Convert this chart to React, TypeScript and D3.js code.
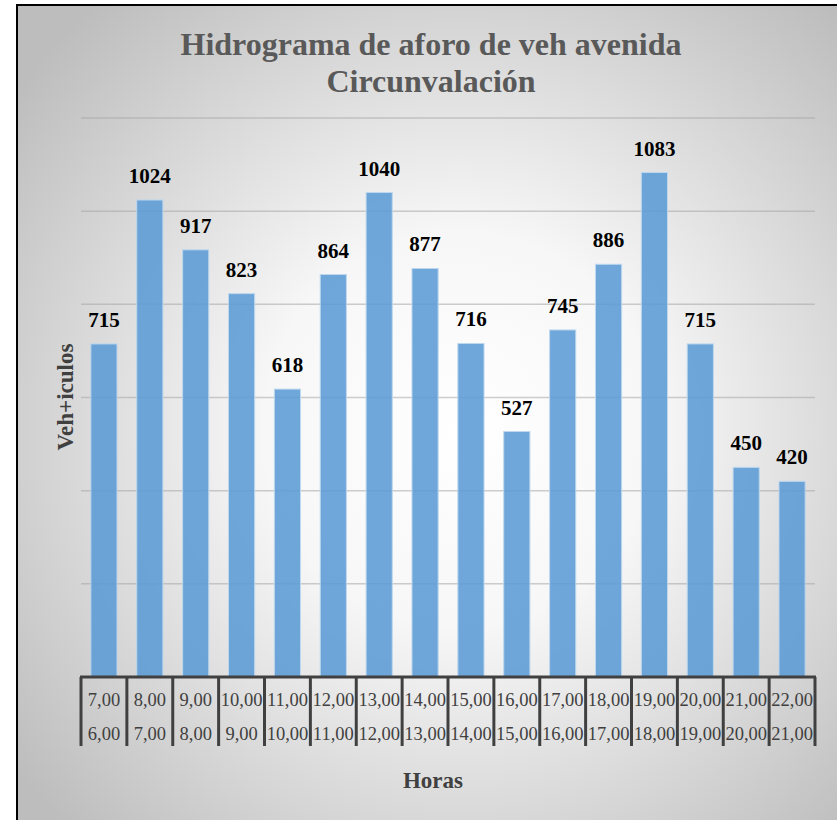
import React from "react";
import * as d3 from "d3";

// horas (hasta / desde) y conteo de vehiculos
const horasHasta = ["7,00", "8,00", "9,00", "10,00", "11,00", "12,00", "13,00", "14,00", "15,00", "16,00", "17,00", "18,00", "19,00", "20,00", "21,00", "22,00"];
const horasDesde = ["6,00", "7,00", "8,00", "9,00", "10,00", "11,00", "12,00", "13,00", "14,00", "15,00", "16,00", "17,00", "18,00", "19,00", "20,00", "21,00"];
const vehiculos = [715, 1024, 917, 823, 618, 864, 1040, 877, 716, 527, 745, 886, 1083, 715, 450, 420];
const yTicks = [0, 200, 400, 600, 800, 1000, 1200];

const W = 837;
const H = 820;
const plot = { left: 81, right: 815, top: 118, bottom: 677 };
const serif = "Liberation Serif";

export default function App() {
  const idx = vehiculos.map((_, i) => String(i));

  const x = d3
    .scaleBand()
    .domain(idx)
    .range([plot.left, plot.right])
    .paddingInner(0.43)
    .paddingOuter(0.215);

  const y = d3.scaleLinear().domain([0, 1200]).range([plot.bottom, plot.top]);

  const step = x.step();
  const tableBottom = 746;
  const cx = (i: number) => (x(String(i)) ?? 0) + x.bandwidth() / 2;

  return (
    <svg
      width={W}
      height={H}
      style={{ position: "absolute", left: 0, top: 0, display: "block" }}
    >
      <defs>
        <radialGradient id="bg" gradientUnits="userSpaceOnUse" cx={460} cy={430} r={560}>
          <stop offset="0%" stopColor="#ffffff" />
          <stop offset="35%" stopColor="#f7f7f7" />
          <stop offset="100%" stopColor="#bdbdbd" />
        </radialGradient>
      </defs>
      <rect x={17} y={5} width={W} height={H} fill="url(#bg)" stroke="#000" strokeWidth={2} />

      {/* title */}
      <text x={431} y={55} textAnchor="middle" fontFamily={serif} fontWeight="bold" fontSize={32} fill="#595959">
        Hidrograma de aforo de veh avenida
      </text>
      <text x={431} y={92} textAnchor="middle" fontFamily={serif} fontWeight="bold" fontSize={32} fill="#595959">
        Circunvalación
      </text>

      {/* gridlines */}
      {yTicks.slice(1).map((t) => (
        <line
          key={t}
          x1={plot.left}
          x2={plot.right}
          y1={y(t)}
          y2={y(t)}
          stroke="#a6a6a6"
          strokeOpacity={0.55}
          strokeWidth={1.5}
        />
      ))}

      {/* bars */}
      {vehiculos.map((v, i) => (
        <rect
          key={i}
          x={x(String(i))}
          y={y(v)}
          width={x.bandwidth()}
          height={y(0) - y(v)}
          fill="#5b9bd5"
          fillOpacity={0.88}
          stroke="#bdd7ee"
          strokeWidth={1}
        />
      ))}

      {/* data labels */}
      {vehiculos.map((v, i) => (
        <text key={i} x={cx(i)} y={y(v) - 17} textAnchor="middle" fontFamily={serif} fontWeight="bold" fontSize={21} fill="#000">
          {v}
        </text>
      ))}

      {/* category table */}
      <line x1={plot.left - 1} x2={plot.right + 1} y1={plot.bottom} y2={plot.bottom} stroke="#404040" strokeWidth={3} />
      {d3.range(vehiculos.length + 1).map((k) => (
        <line
          key={k}
          x1={plot.left + k * step}
          x2={plot.left + k * step}
          y1={plot.bottom}
          y2={tableBottom}
          stroke="#404040"
          strokeWidth={3}
        />
      ))}
      {horasHasta.map((h, i) => (
        <text key={"a" + i} x={cx(i)} y={706} textAnchor="middle" fontFamily={serif} fontSize={18.5} fill="#404040">
          {h}
        </text>
      ))}
      {horasDesde.map((h, i) => (
        <text key={"b" + i} x={cx(i)} y={740} textAnchor="middle" fontFamily={serif} fontSize={18.5} fill="#404040">
          {h}
        </text>
      ))}

      {/* axis titles */}
      <text x={433} y={788} textAnchor="middle" fontFamily={serif} fontWeight="bold" fontSize={23} fill="#404040">
        Horas
      </text>
      <text
        transform={`translate(73,397) rotate(-90)`}
        textAnchor="middle"
        fontFamily={serif}
        fontWeight="bold"
        fontSize={23}
        fill="#404040"
      >
        Veh+iculos
      </text>
    </svg>
  );
}
